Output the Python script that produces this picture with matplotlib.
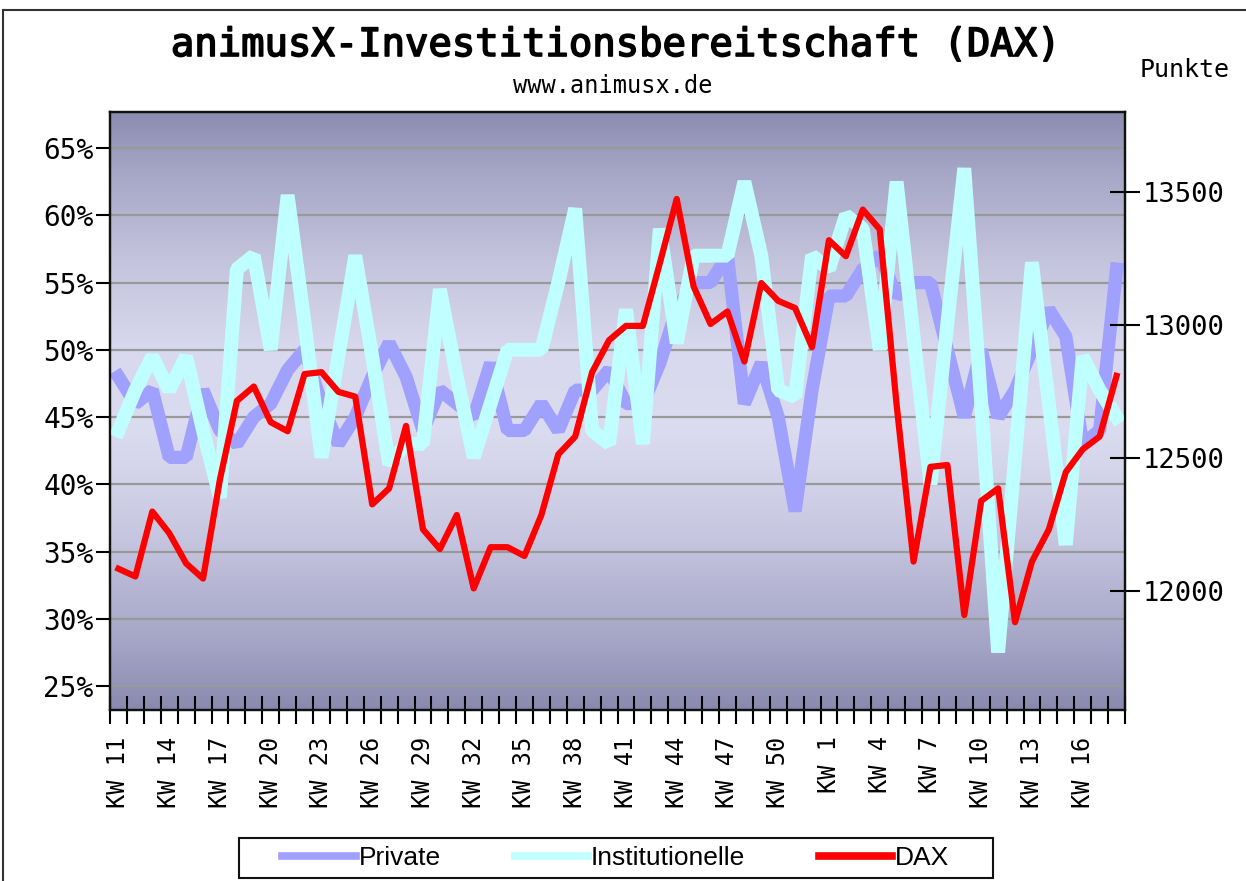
import numpy as np
import matplotlib.pyplot as plt
import matplotlib.patheffects as pe
from matplotlib.colors import LinearSegmentedColormap
from matplotlib.lines import Line2D
from matplotlib.patches import Rectangle

# calendar weeks KW 11 .. KW 52, then KW 1 .. KW 18
weeks = list(range(11, 53)) + list(range(1, 19))

# Investitionsbereitschaft in %
private = [48, 46, 47, 42, 42, 47, 44, 43, 45, 46,
           48.5, 50, 46, 43, 45, 48, 50.5, 48, 44, 47,
           46, 45, 49, 44, 44, 46, 44, 47, 47, 48.5,
           46, 46, 49, 53, 55, 55, 57, 46, 49, 45,
           38, 47, 54, 54, 56, 57, 54, 55, 55, 50,
           45, 50, 45, 47, 50, 53, 51, 43, 44, 56]

institutionelle = [44, 47, 49.5, 47, 49.5, 44, 39, 56, 57, 50,
                   61.5, 52, 42, 49.5, 57, 49.5, 41.5, 43, 43, 54.5,
                   48, 42, 46, 50, 50, 50, 55, 60.5, 44, 43,
                   53, 43, 59, 50.5, 57, 57, 57, 62.5, 57, 47,
                   46.5, 57, 56, 60, 59, 50, 62.5, 51, 40, 52,
                   63.5, 46, 27.5, 42, 56.5, 46, 35.5, 49.5, 47, 45]

# DAX in Punkten
dax = [12084, 12055, 12299, 12218, 12104, 12047, 12420, 12715, 12769, 12635,
       12601, 12816, 12823, 12749, 12731, 12326, 12386, 12621, 12232, 12158,
       12286, 12010, 12165, 12165, 12132, 12286, 12514, 12581, 12823, 12943,
       12997, 12997, 13232, 13474, 13145, 13004, 13051, 12863, 13158, 13091,
       13064, 12917, 13319, 13259, 13434, 13360, 12700, 12111, 12467, 12474,
       11910, 12339, 12386, 11883, 12111, 12232, 12447, 12533, 12581, 12809]

pct_ticks = [25, 30, 35, 40, 45, 50, 55, 60, 65]
dax_ticks = [12000, 12500, 13000, 13500]

W, H = 1246, 881
mono = 'DejaVu Sans Mono'

fig = plt.figure(figsize=(W / 100, H / 100), dpi=100)
ax = fig.add_axes([110 / W, 1 - 710 / H, (1125 - 110) / W, (710 - 112) / H])

# background gradient (dark - light - dark)
cmap = LinearSegmentedColormap.from_list('bg', [
    (0.0, '#8a8aae'), (0.1, '#a2a2c4'), (0.3, '#c8c8e2'), (0.47, '#dcdcf0'),
    (0.6, '#d8d8ee'), (0.75, '#c4c4de'), (0.9, '#a6a6c6'), (1.0, '#8c8cb0')])
grad = np.linspace(0, 1, 256).reshape(-1, 1)
ax.imshow(grad, cmap=cmap, origin='lower', extent=[0, 1, 0, 1],
          transform=ax.transAxes, aspect='auto', zorder=0, interpolation='bicubic')

x = np.arange(len(weeks))
l1, = ax.plot(x, private, color='#a0a0ff', lw=9.5, solid_joinstyle='bevel', zorder=2)
l2, = ax.plot(x, institutionelle, color='#c0ffff', lw=10, solid_joinstyle='bevel', zorder=3)

ax.set_xlim(-0.5, len(weeks) - 0.5)
ax.set_ylim(23.22, 67.68)
ax.set_yticks(pct_ticks)
ax.set_yticklabels([f"{v}%" for v in pct_ticks], family=mono, fontsize=20)
ax.yaxis.grid(True, color='#999999', lw=1.6)
ax.set_axisbelow(True)
ax.tick_params(axis='y', direction='out', length=10, width=1.5, pad=2, right=False)

ax.set_xticks(np.arange(-0.5, len(weeks), 1))
ax.tick_params(axis='x', which='major', direction='inout', length=20, width=1.5,
               labelbottom=False)
ax.set_xticks(x[::3], minor=True)
ax.set_xticklabels([f"KW {w}" for w in weeks[::3]], minor=True, rotation=90,
                   family=mono, fontsize=17)
ax.tick_params(axis='x', which='minor', length=0, pad=19)

ax2 = ax.twinx()
l3, = ax2.plot(x, dax, color='#ff0000', lw=4.5, solid_joinstyle='round')
ax2.set_ylim(11553, 13801)
ax2.set_yticks(dax_ticks)
ax2.set_yticklabels([str(v) for v in dax_ticks], family=mono, fontsize=19.5)
ax2.tick_params(axis='y', direction='inout', length=22, width=1.5, pad=2)

for a in (ax, ax2):
    for s in a.spines.values():
        s.set_color('#111111')
        s.set_linewidth(1.6)

fig.text(615 / W, 1 - 45 / H, "animusX-Investitionsbereitschaft (DAX)",
         ha='center', va='center', family=mono, fontsize=28,
         path_effects=[pe.withStroke(linewidth=1.2, foreground='black')])
fig.text(613 / W, 1 - 86 / H, "www.animusx.de", ha='center', va='center',
         family=mono, fontsize=17)
fig.text(1140 / W, 1 - 70 / H, "Punkte", ha='left', va='center',
         family=mono, fontsize=18)

# outer frame
fig.add_artist(Line2D([3 / W, 3 / W], [0, 1 - 10 / H], color='#333333', lw=1.5))
fig.add_artist(Line2D([3 / W, 1], [1 - 10 / H, 1 - 10 / H], color='#333333', lw=1.5))

# legend
fig.add_artist(Rectangle((239 / W, 1 - 878 / H), (993 - 239) / W, 40 / H,
                         facecolor='white', edgecolor='#111111', lw=1.5, zorder=1))
leg = fig.legend([l1, l2, l3], ['Private', 'Institutionelle', 'DAX'], loc='center',
                 bbox_to_anchor=(616 / W, 1 - 858 / H), ncol=3, frameon=False,
                 prop={'family': 'Liberation Sans', 'size': 19},
                 handlelength=2.77, handletextpad=0.12, columnspacing=2.8)
for ln in leg.get_lines():
    ln.set_linewidth(5.5)

fig.savefig('out.png', dpi=100)
